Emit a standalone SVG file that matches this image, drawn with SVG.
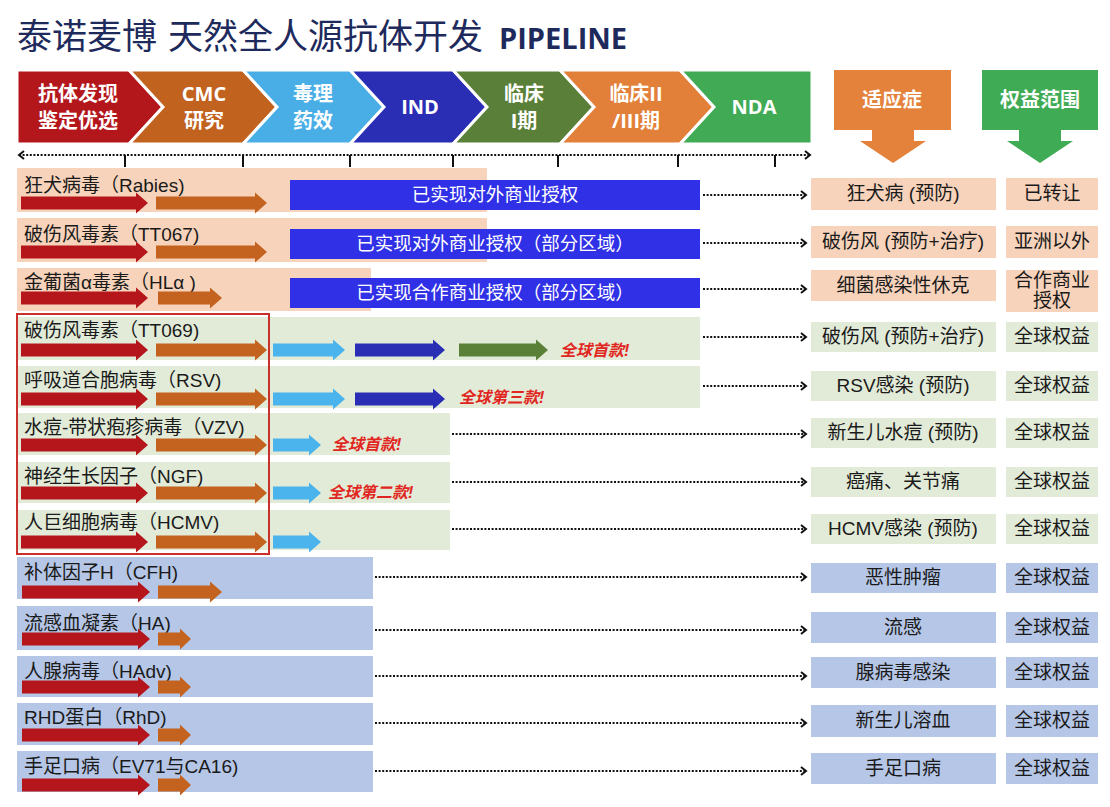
<svg xmlns="http://www.w3.org/2000/svg" width="1110" height="807" viewBox="0 0 1110 807">
<style>
text{font-family:"Liberation Sans","Noto Sans CJK SC",sans-serif}
.ttl{font-family:"Noto Sans CJK SC",sans-serif;font-size:35px;fill:#1e2a5c}
.ttlb{font-family:"Open Sans","Noto Sans CJK SC",sans-serif;font-size:29px;font-weight:bold;fill:#1e2a5c}
.stg{fill:#fff;font-family:"Open Sans","Noto Sans CJK SC",sans-serif;font-size:20px;font-weight:bold;text-anchor:middle}
.chev{stroke:#fff;stroke-width:3;stroke-linejoin:miter}
.hdr{fill:#fff;font-family:"Noto Sans CJK SC",sans-serif;font-size:20px;font-weight:bold;text-anchor:middle}
.lbl{font-size:19px;fill:#1a1a1a}
.peach{fill:#f7d3bb}
.green{fill:#e2ebd8}
.blue{fill:#b5c6e6}
.red{fill:#b5161b}
.org{fill:#c4631f}
.lbl2{fill:#4cb4ec}
.dblue{fill:#2a2eb5}
.olive{fill:#5a8038}
.lic{fill:#3030e6}
.lict{fill:#fff;font-size:18.5px;text-anchor:middle}
.ind{font-size:19px;fill:#1a1a1a;text-anchor:middle}
.first{fill:#e12621;font-size:16px;font-weight:bold;font-style:italic}
.dot{stroke:#111;stroke-width:2;stroke-dasharray:2 1.6;fill:none}
.tick{stroke:#111;stroke-width:2}
</style>
<defs>
<marker id="ah" markerWidth="8" markerHeight="10" refX="6" refY="5" orient="auto" markerUnits="userSpaceOnUse">
<path d="M1,1 L6,5 L1,9" fill="none" stroke="#111" stroke-width="2"/>
</marker>
<marker id="ahl" markerWidth="8" markerHeight="10" refX="6" refY="5" orient="auto-start-reverse" markerUnits="userSpaceOnUse">
<path d="M1,1 L6,5 L1,9" fill="none" stroke="#111" stroke-width="2"/>
</marker>
</defs>
<rect width="1110" height="807" fill="#fff"/>

<g id="title">
<text class="ttl" x="17" y="49">泰诺麦博</text>
<text class="ttl" x="168" y="49">天然全人源抗体开发</text>
<text class="ttlb" x="499" y="49">PIPELINE</text>
</g>

<g id="stages">
<g id="stage-1"><polygon class="chev" fill="#b3161b" points="17,70 129,70 163,107 129,144 17,144"/>
<text class="stg" x="78" y="101">抗体发现</text><text class="stg" x="78" y="128">鉴定优选</text></g>
<g id="stage-2"><polygon class="chev" fill="#c2621f" points="129,70 243,70 277,107 243,144 129,144 163,107"/>
<text class="stg" x="204" y="101">CMC</text><text class="stg" x="204" y="128">研究</text></g>
<g id="stage-3"><polygon class="chev" fill="#4aaee6" points="243,70 350,70 384,107 350,144 243,144 277,107"/>
<text class="stg" x="313" y="101">毒理</text><text class="stg" x="313" y="128">药效</text></g>
<g id="stage-4"><polygon class="chev" fill="#2a2eb5" points="350,70 453,70 487,107 453,144 350,144 384,107"/>
<text class="stg" x="420" y="114">IND</text></g>
<g id="stage-5"><polygon class="chev" fill="#5a7f38" points="453,70 560,70 594,107 560,144 453,144 487,107"/>
<text class="stg" x="524" y="101">临床</text><text class="stg" x="524" y="128">I期</text></g>
<g id="stage-6"><polygon class="chev" fill="#e27f38" points="560,70 680,70 714,107 680,144 560,144 594,107"/>
<text class="stg" x="636" y="101">临床II</text><text class="stg" x="636" y="128">/III期</text></g>
<g id="stage-7"><polygon class="chev" fill="#40aa55" points="680,70 812,70 812,144 680,144 714,107"/>
<text class="stg" x="754" y="114">NDA</text></g>
</g>

<g id="axis">
<line class="dot" x1="19" y1="155" x2="810" y2="155" marker-start="url(#ahl)" marker-end="url(#ah)"/>
<line class="tick" x1="125" y1="155" x2="125" y2="167"/>
<line class="tick" x1="243" y1="155" x2="243" y2="167"/>
<line class="tick" x1="350" y1="155" x2="350" y2="167"/>
<line class="tick" x1="453" y1="155" x2="453" y2="167"/>
<line class="tick" x1="558" y1="155" x2="558" y2="167"/>
<line class="tick" x1="678" y1="155" x2="678" y2="167"/>
<line class="tick" x1="775" y1="155" x2="775" y2="167"/>
</g>

<g id="header-indication">
<rect x="834" y="70" width="117" height="60" fill="#e4813b"/>
<polygon points="872,129 914,129 914,141 926,141 893,163 860,141 872,141" fill="#e4813b"/>
<text class="hdr" x="892" y="107">适应症</text>
</g>
<g id="header-rights">
<rect x="982" y="70" width="116" height="60" fill="#40ab55"/>
<polygon points="1019,129 1061,129 1061,141 1073,141 1040,163 1007,141 1019,141" fill="#40ab55"/>
<text class="hdr" x="1040" y="107">权益范围</text>
</g>

<g id="row-rabies">
<rect class="peach" x="17" y="168" width="470" height="44"/>
<text class="lbl" x="24" y="192">狂犬病毒（Rabies)</text>
<path class="red" d="M21,196.5 H136 V192.5 L148,203 L136,213.5 V209.5 H21 Z"/>
<path class="org" d="M156,196.5 H255 V192.5 L267,203 L255,213.5 V209.5 H156 Z"/>
<rect class="lic" x="290" y="180" width="410" height="30"/>
<text class="lict" x="495" y="201">已实现对外商业授权</text>
<rect class="peach" x="811" y="178" width="185" height="32"/>
<text class="ind" x="903" y="200">狂犬病 (预防)</text>
<rect class="peach" x="1006" y="178" width="92" height="32"/>
<text class="ind" x="1052" y="200">已转让</text>
</g>

<g id="row-tt067">
<rect class="peach" x="17" y="218" width="470" height="44"/>
<text class="lbl" x="24" y="241">破伤风毒素（TT067)</text>
<path class="red" d="M21,245.5 H136 V241.5 L148,252 L136,262.5 V258.5 H21 Z"/>
<path class="org" d="M156,245.5 H255 V241.5 L267,252 L255,262.5 V258.5 H156 Z"/>
<rect class="lic" x="290" y="229" width="410" height="30"/>
<text class="lict" x="495" y="250">已实现对外商业授权（部分区域）</text>
<rect class="peach" x="811" y="226" width="185" height="32"/>
<text class="ind" x="903" y="248">破伤风 (预防+治疗)</text>
<rect class="peach" x="1006" y="226" width="92" height="32"/>
<text class="ind" x="1052" y="248">亚洲以外</text>
</g>

<g id="row-hla">
<rect class="peach" x="17" y="268" width="354" height="43"/>
<text class="lbl" x="24" y="289">金葡菌α毒素（HLα )</text>
<path class="red" d="M21,291.5 H136 V287.5 L148,298 L136,308.5 V304.5 H21 Z"/>
<path class="org" d="M158,291.5 H210 V287.5 L222,298 L210,308.5 V304.5 H158 Z"/>
<rect class="lic" x="290" y="278" width="410" height="30"/>
<text class="lict" x="495" y="299">已实现合作商业授权（部分区域）</text>
<rect class="peach" x="811" y="270" width="185" height="31"/>
<text class="ind" x="903" y="292">细菌感染性休克</text>
<rect class="peach" x="1006" y="270" width="92" height="42"/>
<text class="ind" x="1052" y="287">合作商业</text>
<text class="ind" x="1052" y="307">授权</text>
</g>

<g id="row-tt069">
<rect class="green" x="17" y="317" width="683" height="43"/>
<text class="lbl" x="24" y="337">破伤风毒素（TT069)</text>
<path class="red" d="M21,343.5 H136 V339.5 L148,350 L136,360.5 V356.5 H21 Z"/>
<path class="org" d="M156,343.5 H255 V339.5 L267,350 L255,360.5 V356.5 H156 Z"/>
<path class="lbl2" d="M273,343.5 H333 V339.5 L345,350 L333,360.5 V356.5 H273 Z"/>
<path class="dblue" d="M355,343.5 H433 V339.5 L445,350 L433,360.5 V356.5 H355 Z"/>
<path class="olive" d="M459,343.5 H536 V339.5 L548,350 L536,360.5 V356.5 H459 Z"/>
<text class="first" x="560" y="356">全球首款!</text>
<rect class="green" x="811" y="322" width="185" height="30"/>
<text class="ind" x="903" y="343">破伤风 (预防+治疗)</text>
<rect class="green" x="1006" y="322" width="92" height="30"/>
<text class="ind" x="1052" y="343">全球权益</text>
</g>

<g id="row-rsv">
<rect class="green" x="17" y="366" width="683" height="42"/>
<text class="lbl" x="24" y="387">呼吸道合胞病毒（RSV)</text>
<path class="red" d="M21,392.5 H136 V388.5 L148,399 L136,409.5 V405.5 H21 Z"/>
<path class="org" d="M156,392.5 H255 V388.5 L267,399 L255,409.5 V405.5 H156 Z"/>
<path class="lbl2" d="M273,392.5 H333 V388.5 L345,399 L333,409.5 V405.5 H273 Z"/>
<path class="dblue" d="M355,392.5 H433 V388.5 L445,399 L433,409.5 V405.5 H355 Z"/>
<text class="first" x="459" y="403">全球第三款!</text>
<rect class="green" x="811" y="371" width="185" height="30"/>
<text class="ind" x="903" y="392">RSV感染 (预防)</text>
<rect class="green" x="1006" y="371" width="92" height="30"/>
<text class="ind" x="1052" y="392">全球权益</text>
</g>

<g id="row-vzv">
<rect class="green" x="17" y="413" width="433" height="42"/>
<text class="lbl" x="24" y="434">水痘-带状疱疹病毒（VZV)</text>
<path class="red" d="M21,438.5 H136 V434.5 L148,445 L136,455.5 V451.5 H21 Z"/>
<path class="org" d="M156,438.5 H255 V434.5 L267,445 L255,455.5 V451.5 H156 Z"/>
<path class="lbl2" d="M273,438.5 H309 V434.5 L321,445 L309,455.5 V451.5 H273 Z"/>
<text class="first" x="332" y="450">全球首款!</text>
<rect class="green" x="811" y="418" width="185" height="30"/>
<text class="ind" x="903" y="439">新生儿水痘 (预防)</text>
<rect class="green" x="1006" y="418" width="92" height="30"/>
<text class="ind" x="1052" y="439">全球权益</text>
</g>

<g id="row-ngf">
<rect class="green" x="17" y="462" width="433" height="41"/>
<text class="lbl" x="24" y="483">神经生长因子（NGF)</text>
<path class="red" d="M21,486.5 H136 V482.5 L148,493 L136,503.5 V499.5 H21 Z"/>
<path class="org" d="M156,486.5 H255 V482.5 L267,493 L255,503.5 V499.5 H156 Z"/>
<path class="lbl2" d="M273,486.5 H309 V482.5 L321,493 L309,503.5 V499.5 H273 Z"/>
<text class="first" x="328" y="498">全球第二款!</text>
<rect class="green" x="811" y="467" width="185" height="30"/>
<text class="ind" x="903" y="488">癌痛、关节痛</text>
<rect class="green" x="1006" y="467" width="92" height="30"/>
<text class="ind" x="1052" y="488">全球权益</text>
</g>

<g id="row-hcmv">
<rect class="green" x="17" y="510" width="433" height="40"/>
<text class="lbl" x="24" y="529">人巨细胞病毒（HCMV)</text>
<path class="red" d="M21,535.5 H136 V531.5 L148,542 L136,552.5 V548.5 H21 Z"/>
<path class="org" d="M156,535.5 H255 V531.5 L267,542 L255,552.5 V548.5 H156 Z"/>
<path class="lbl2" d="M273,535.5 H309 V531.5 L321,542 L309,552.5 V548.5 H273 Z"/>
<rect class="green" x="811" y="514" width="185" height="30"/>
<text class="ind" x="903" y="535">HCMV感染 (预防)</text>
<rect class="green" x="1006" y="514" width="92" height="30"/>
<text class="ind" x="1052" y="535">全球权益</text>
</g>

<g id="highlight-box">
<rect x="17" y="314" width="252" height="240" fill="none" stroke="#c9302c" stroke-width="2"/>
</g>

<g id="row-cfh">
<rect class="blue" x="17" y="557" width="356" height="42"/>
<text class="lbl" x="24" y="579">补体因子H（CFH)</text>
<path class="red" d="M22,585.5 H138 V581.5 L150,592 L138,602.5 V598.5 H22 Z"/>
<path class="org" d="M158,585.5 H210 V581.5 L222,592 L210,602.5 V598.5 H158 Z"/>
<rect class="blue" x="811" y="563" width="185" height="30"/>
<text class="ind" x="903" y="584">恶性肿瘤</text>
<rect class="blue" x="1006" y="563" width="92" height="30"/>
<text class="ind" x="1052" y="584">全球权益</text>
</g>

<g id="row-ha">
<rect class="blue" x="17" y="606" width="356" height="44"/>
<text class="lbl" x="24" y="630">流感血凝素（HA)</text>
<path class="red" d="M22,632.5 H138 V628.5 L150,639 L138,649.5 V645.5 H22 Z"/>
<path class="org" d="M158,632.5 H180 V628.5 L191,639 L180,649.5 V645.5 H158 Z"/>
<rect class="blue" x="811" y="612" width="185" height="31"/>
<text class="ind" x="903" y="634">流感</text>
<rect class="blue" x="1006" y="612" width="92" height="31"/>
<text class="ind" x="1052" y="634">全球权益</text>
</g>

<g id="row-hadv">
<rect class="blue" x="17" y="656" width="356" height="41"/>
<text class="lbl" x="24" y="678">人腺病毒（HAdv)</text>
<path class="red" d="M22,680.5 H138 V676.5 L150,687 L138,697.5 V693.5 H22 Z"/>
<path class="org" d="M158,680.5 H180 V676.5 L191,687 L180,697.5 V693.5 H158 Z"/>
<rect class="blue" x="811" y="657" width="185" height="31"/>
<text class="ind" x="903" y="679">腺病毒感染</text>
<rect class="blue" x="1006" y="657" width="92" height="31"/>
<text class="ind" x="1052" y="679">全球权益</text>
</g>

<g id="row-rhd">
<rect class="blue" x="17" y="703" width="356" height="42"/>
<text class="lbl" x="24" y="724">RHD蛋白（RhD)</text>
<path class="red" d="M22,728.5 H138 V724.5 L150,735 L138,745.5 V741.5 H22 Z"/>
<path class="org" d="M158,728.5 H180 V724.5 L191,735 L180,745.5 V741.5 H158 Z"/>
<rect class="blue" x="811" y="705" width="185" height="32"/>
<text class="ind" x="903" y="727">新生儿溶血</text>
<rect class="blue" x="1006" y="705" width="92" height="32"/>
<text class="ind" x="1052" y="727">全球权益</text>
</g>

<g id="row-ev71">
<rect class="blue" x="17" y="751" width="356" height="41"/>
<text class="lbl" x="24" y="773">手足口病（EV71与CA16)</text>
<path class="red" d="M22,778.5 H138 V774.5 L150,785 L138,795.5 V791.5 H22 Z"/>
<path class="org" d="M158,778.5 H180 V774.5 L191,785 L180,795.5 V791.5 H158 Z"/>
<rect class="blue" x="811" y="753" width="185" height="31"/>
<text class="ind" x="903" y="775">手足口病</text>
<rect class="blue" x="1006" y="753" width="92" height="31"/>
<text class="ind" x="1052" y="775">全球权益</text>
</g>

<g id="connectors">
<line class="dot" x1="703" y1="195" x2="806" y2="195" marker-end="url(#ah)"/>
<line class="dot" x1="703" y1="243" x2="806" y2="243" marker-end="url(#ah)"/>
<line class="dot" x1="703" y1="289" x2="806" y2="289" marker-end="url(#ah)"/>
<line class="dot" x1="703" y1="337" x2="806" y2="337" marker-end="url(#ah)"/>
<line class="dot" x1="703" y1="386" x2="806" y2="386" marker-end="url(#ah)"/>
<line class="dot" x1="452" y1="434" x2="806" y2="434" marker-end="url(#ah)"/>
<line class="dot" x1="452" y1="482" x2="806" y2="482" marker-end="url(#ah)"/>
<line class="dot" x1="452" y1="529" x2="806" y2="529" marker-end="url(#ah)"/>
<line class="dot" x1="375" y1="577" x2="806" y2="577" marker-end="url(#ah)"/>
<line class="dot" x1="375" y1="630" x2="806" y2="630" marker-end="url(#ah)"/>
<line class="dot" x1="375" y1="676" x2="806" y2="676" marker-end="url(#ah)"/>
<line class="dot" x1="375" y1="723" x2="806" y2="723" marker-end="url(#ah)"/>
<line class="dot" x1="375" y1="771" x2="806" y2="771" marker-end="url(#ah)"/>
</g>
</svg>
